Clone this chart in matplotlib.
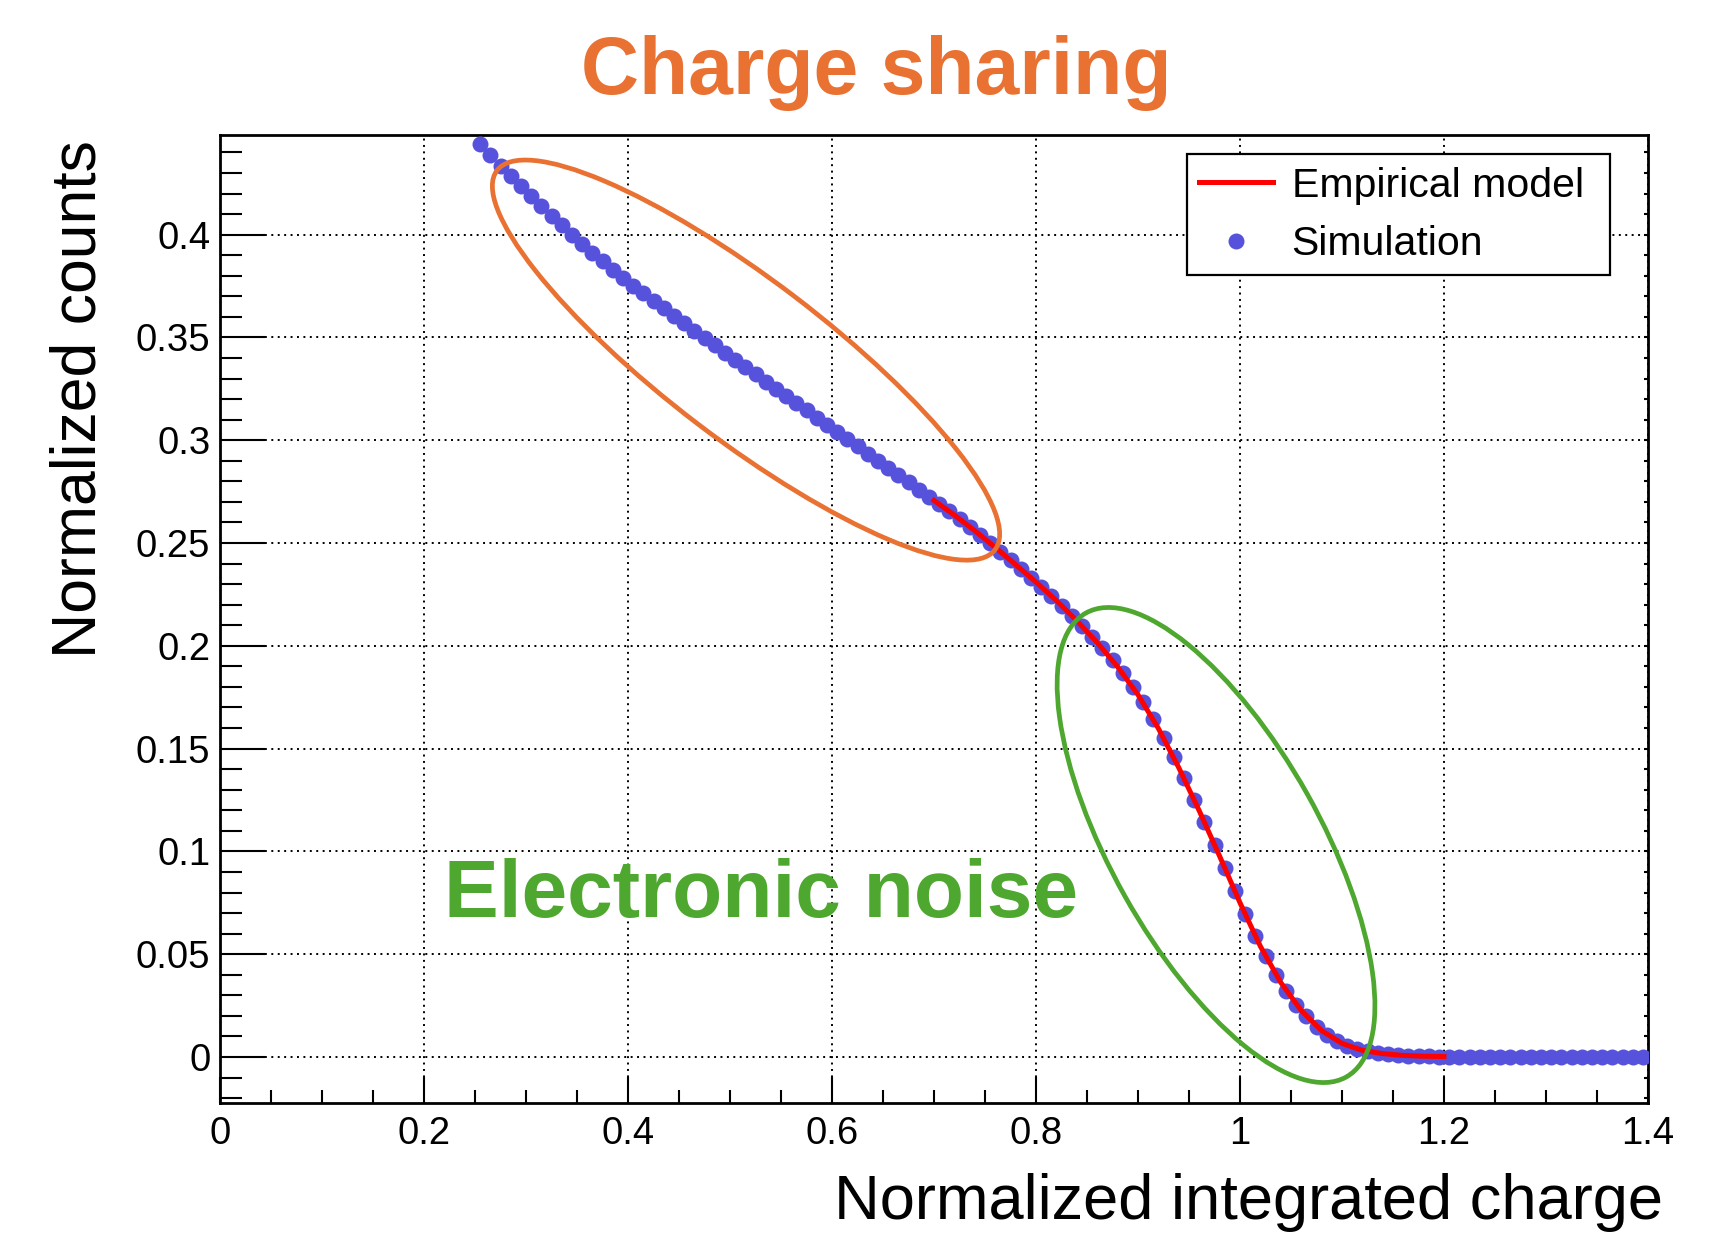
import numpy as np
import matplotlib
matplotlib.use("Agg")
import matplotlib.pyplot as plt
from matplotlib.patches import Ellipse
from matplotlib.transforms import IdentityTransform
from matplotlib.ticker import MultipleLocator

# simulation: bin centres start at 0.255, width 0.01
sim_y = [
    0.4440, 0.4387, 0.4336, 0.4285, 0.4235, 0.4186, 0.4138, 0.4091, 0.4045, 0.4000,
    0.3956, 0.3913, 0.3871, 0.3830, 0.3790, 0.3751, 0.3714, 0.3677, 0.3641, 0.3605,
    0.3569, 0.3533, 0.3497, 0.3461, 0.3425, 0.3390, 0.3355, 0.3320, 0.3285, 0.3250,
    0.3215, 0.3180, 0.3145, 0.3110, 0.3075, 0.3040, 0.3005, 0.2970, 0.2935, 0.2900,
    0.2865, 0.2830, 0.2795, 0.2760, 0.2725, 0.2690, 0.2654, 0.2617, 0.2579, 0.2540,
    0.2500, 0.2458, 0.2416, 0.2374, 0.2332, 0.2288, 0.2243, 0.2196, 0.2147, 0.2096,
    0.2043, 0.1988, 0.1930, 0.1866, 0.1798, 0.1725, 0.1643, 0.1553, 0.1457, 0.1357,
    0.1252, 0.1143, 0.1033, 0.0920, 0.0806, 0.0694, 0.0587, 0.0489, 0.0401, 0.0322,
    0.0255, 0.0197, 0.0148, 0.0108, 0.0077, 0.0055, 0.0038, 0.0027, 0.0019, 0.0013,
    0.0009, 0.0006, 0.0004, 0.0003, 0.0002, 0.0001, 0.0001, 0.0001, 0.0, 0.0,
    0.0, 0.0, 0.0, 0.0, 0.0, 0.0, 0.0, 0.0, 0.0, 0.0,
    0.0, 0.0, 0.0, 0.0, 0.0,
]
sim_x = 0.255 + 0.01 * np.arange(len(sim_y))

model_x = [0.70, 0.72, 0.74, 0.76, 0.78, 0.80, 0.82, 0.84, 0.86, 0.88, 0.90, 0.92, 0.94,
           0.96, 0.98, 1.00, 1.02, 1.04, 1.06, 1.08, 1.10, 1.12, 1.14, 1.16, 1.18, 1.20]
model_y = [0.2707, 0.2636, 0.2560, 0.2479, 0.2395, 0.2310, 0.2220, 0.2122, 0.2016,
           0.1898, 0.1762, 0.1598, 0.1407, 0.1198, 0.0977, 0.0750, 0.0538, 0.0362,
           0.0226, 0.0128, 0.0066, 0.0032, 0.0016, 0.00075, 0.00035, 0.0002]

ORANGE = "#E97132"
GREEN = "#4EA72E"
BLUE = "#5652DB"

plt.rcParams["font.family"] = ["Liberation Sans", "DejaVu Sans"]

fig = plt.figure(figsize=(17.11, 12.33), dpi=100)
ax = fig.add_axes([220 / 1711, 1 - 1103 / 1233, 1428 / 1711, 968 / 1233])

ax.plot(sim_x, sim_y, "o", color=BLUE, ms=11.5, mew=0, label="Simulation", zorder=3)
ax.plot(model_x, model_y, "-", color="#FF0000", lw=3.6, label="Empirical model", zorder=4)

ax.set_xlim(0, 1.4)
ax.set_ylim(-0.0224, 0.4485)
ax.xaxis.set_minor_locator(MultipleLocator(0.05))
ax.yaxis.set_minor_locator(MultipleLocator(0.01))
ax.set_xticks([0, 0.2, 0.4, 0.6, 0.8, 1.0, 1.2, 1.4])
ax.set_xticklabels(["0", "0.2", "0.4", "0.6", "0.8", "1", "1.2", "1.4"])
ax.set_yticks([0, 0.05, 0.1, 0.15, 0.2, 0.25, 0.3, 0.35, 0.4])
ax.set_yticklabels(["0", "0.05", "0.1", "0.15", "0.2", "0.25", "0.3", "0.35", "0.4"])

ax.tick_params(axis="both", which="both", direction="in", width=1.5, labelsize=27.5,
               color="black", top=False, right=False)
ax.tick_params(axis="x", which="major", length=19, pad=9)
ax.tick_params(axis="x", which="minor", length=9.5)
ax.tick_params(axis="y", which="major", length=32.5, pad=7)
ax.tick_params(axis="y", which="minor", length=16)
for sp in ax.spines.values():
    sp.set_linewidth(2)

# short ticks along the right edge
rax = ax.secondary_yaxis("right")
rax.set_yticks(ax.get_yticks())
rax.yaxis.set_minor_locator(MultipleLocator(0.01))
rax.tick_params(which="both", direction="in", length=3, width=1.5, labelright=False)

ax.grid(True, which="major", color="black", linestyle=(0, (1, 2.3)), linewidth=1.4)
ax.set_axisbelow(True)

# highlight ellipses (centre in data units, size in pixels)
for (cx, cy), w, h, ang, col in [((0.5157, 0.339), 626, 160, -37.3, ORANGE),
                                  ((0.9765, 0.1031), 532, 209, -60.7, GREEN)]:
    px, py = ax.transData.transform((cx, cy))
    e = Ellipse((px, py), w, h, angle=ang, fill=False, edgecolor=col, lw=3.4,
                transform=IdentityTransform(), zorder=5, clip_on=False)
    ax.add_patch(e)

ax.text(0.22, 0.068, "Electronic noise", color=GREEN, fontsize=59,
        fontweight="bold", ha="left", va="baseline", zorder=6)

handles, labels = ax.get_legend_handles_labels()
leg = ax.legend(handles[::-1], labels[::-1], loc="upper left",
                bbox_to_anchor=(0.6772, 0.5, 0.2962, 0.48), mode="expand",
                fontsize=29.5, frameon=True, fancybox=False, edgecolor="black",
                framealpha=1, handlelength=1.8, handletextpad=0.45, borderpad=0.3,
                labelspacing=0.5, borderaxespad=0)
leg.get_frame().set_linewidth(1.6)

fig.text(876 / 1711, 1 - 94 / 1233, "Charge sharing", color=ORANGE, fontsize=58,
         fontweight="bold", ha="center", va="baseline")
fig.text(1663 / 1711, 1 - 1219 / 1233, "Normalized integrated charge", fontsize=45.5,
         ha="right", va="baseline")
fig.text(0.046, 1 - 399 / 1233, "Normalized counts", fontsize=45, rotation=90,
         ha="center", va="center")

fig.savefig("out.png", dpi=100)
